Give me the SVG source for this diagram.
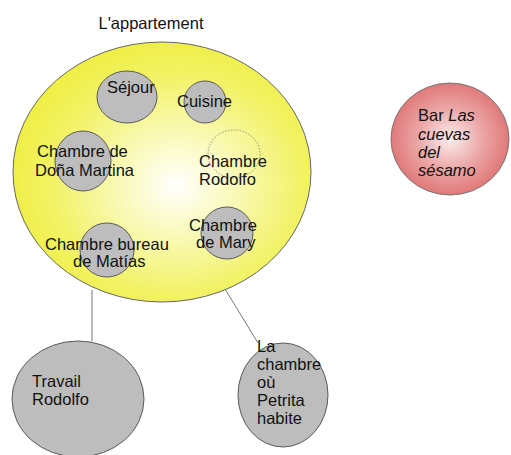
<svg xmlns="http://www.w3.org/2000/svg" width="511" height="455" viewBox="0 0 511 455">
<defs>
<radialGradient id="yel" cx="0.55" cy="0.55" r="0.6">
<stop offset="0" stop-color="#ffffff"/>
<stop offset="0.25" stop-color="#fbfbc8"/>
<stop offset="0.7" stop-color="#f2f266"/>
<stop offset="1" stop-color="#eeee3c"/>
</radialGradient>
<radialGradient id="red" cx="0.5" cy="0.5" r="0.55">
<stop offset="0" stop-color="#fbeeee"/>
<stop offset="0.5" stop-color="#eca6a6"/>
<stop offset="1" stop-color="#dd6f6f"/>
</radialGradient>
<style>
.g{fill:#bdbdbd;stroke:#5a5a5a;stroke-width:1}
.t{font-family:"Liberation Sans",Arial,sans-serif;font-size:16.5px;fill:#111}
.i{font-style:italic}
.c{stroke:#777;stroke-width:1;fill:none}
</style>
</defs>
<rect width="511" height="455" fill="#fff"/>
<g id="connectors">
<line class="c" x1="92" y1="290" x2="92" y2="341"/>
<line class="c" x1="225" y1="289" x2="258" y2="343"/>
</g>
<g id="appartement">
<text class="t" x="151" y="29" text-anchor="middle">L'appartement</text>
<ellipse cx="162" cy="172" rx="149" ry="130" fill="url(#yel)" stroke="#666" stroke-width="1"/>
</g>
<g id="sejour">
<ellipse class="g" cx="127" cy="97" rx="30" ry="26"/>
<text class="t" x="107" y="93">Séjour</text>
</g>
<g id="cuisine">
<ellipse class="g" cx="205" cy="102" rx="21" ry="21"/>
<text class="t" x="177" y="107">Cuisine</text>
</g>
<g id="chambre-rodolfo">
<ellipse cx="234" cy="154" rx="26" ry="24" fill="none" stroke="#777" stroke-width="0.8" stroke-dasharray="1.5,1.5"/>
<text class="t" x="199" y="167">Chambre</text>
<text class="t" x="199" y="185">Rodolfo</text>
</g>
<g id="chambre-martina">
<ellipse class="g" cx="83" cy="161" rx="28" ry="30"/>
<text class="t" x="37" y="157">Chambre de</text>
<text class="t" x="35" y="176">Doña Martina</text>
</g>
<g id="chambre-mary">
<ellipse class="g" cx="227" cy="233" rx="26" ry="26"/>
<text class="t" x="189" y="231">Chambre</text>
<text class="t" x="196" y="248">de Mary</text>
</g>
<g id="chambre-matias">
<ellipse class="g" cx="107" cy="250" rx="27" ry="27"/>
<text class="t" x="45" y="250">Chambre bureau</text>
<text class="t" x="73" y="267">de Matías</text>
</g>
<g id="travail-rodolfo">
<ellipse class="g" cx="78" cy="399" rx="66" ry="58"/>
<text class="t" x="32" y="387">Travail</text>
<text class="t" x="32" y="405">Rodolfo</text>
</g>
<g id="chambre-petrita">
<ellipse class="g" cx="283" cy="395" rx="45" ry="52"/>
<text class="t" x="257" y="352">La</text>
<text class="t" x="257" y="370">chambre</text>
<text class="t" x="257" y="388">où</text>
<text class="t" x="257" y="406">Petrita</text>
<text class="t" x="257" y="424">habite</text>
</g>
<g id="bar">
<ellipse cx="450" cy="139" rx="59" ry="56" fill="url(#red)" stroke="#777" stroke-width="1"/>
<text class="t" x="418" y="121">Bar <tspan class="i">Las</tspan></text>
<text class="t i" x="418" y="140">cuevas</text>
<text class="t i" x="418" y="158">del</text>
<text class="t i" x="418" y="176">sésamo</text>
</g>
</svg>
